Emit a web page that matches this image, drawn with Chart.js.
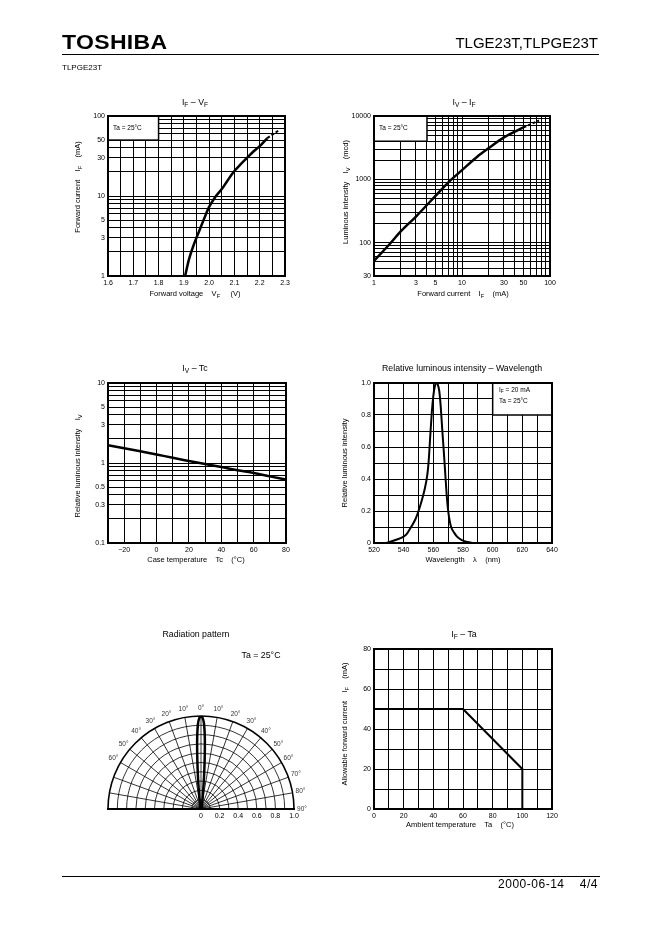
<!DOCTYPE html>
<html>
<head>
<meta charset="utf-8">
<script src="https://cdn.jsdelivr.net/npm/chart.js@4.4.1/dist/chart.umd.min.js"></script>
<style>
  html, body { margin: 0; padding: 0; background: #fff; }
  #page { position: relative; width: 662px; height: 936px; overflow: hidden;
          font-family: "Liberation Sans", Arial, sans-serif; color: #000; }
  #page div { white-space: pre; filter: grayscale(100%); }
  canvas { position: absolute; }
  .t { position: absolute; line-height: 1; transform: translate(-50%, -50%); }
  .v { transform: translate(-50%, -50%) rotate(-90deg); }
  .l { position: absolute; line-height: 1; transform: translateY(-50%); z-index: 2; }
  .ttl { font-size: 8.8px; }
  .ax { font-size: 7.5px; }
  .note { font-size: 6.5px; }
  sub { font-size: 0.75em; vertical-align: -0.3em; line-height: 0; }
</style>
</head>
<body>
<div id="page">
  <div style="position:absolute;left:62px;top:32px;font:900 20px 'Liberation Sans',Arial,sans-serif;line-height:20px;transform:scaleX(1.15);transform-origin:left top;letter-spacing:0.3px;">TOSHIBA</div>
  <div style="position:absolute;right:64px;top:35px;font-size:15px;line-height:15px;">TLGE23T,TLPGE23T</div>
  <div style="position:absolute;left:62px;top:54px;width:537px;height:1px;background:#000;"></div>
  <div style="position:absolute;left:62px;top:64px;font-size:8px;line-height:8px;">TLPGE23T</div>

  <div class="t ttl" style="left:195px;top:102px;">I<sub>F</sub> – V<sub>F</sub></div>
  <div class="t ttl" style="left:464px;top:102px;">I<sub>V</sub> – I<sub>F</sub></div>
  <div class="t ttl" style="left:195px;top:368px;">I<sub>V</sub> – Tc</div>
  <div class="t ttl" style="left:462px;top:368px;">Relative luminous intensity – Wavelength</div>
  <div class="t ttl" style="left:196px;top:634px;">Radiation pattern</div>
  <div class="t ttl" style="left:464px;top:634px;">I<sub>F</sub> – Ta</div>

  <div class="t ax" style="left:195px;top:294px;">Forward voltage    V<sub>F</sub>     (V)</div>
  <div class="t ax v" style="left:78px;top:187px;">Forward current    I<sub>F</sub>    (mA)</div>
  <div class="t ax" style="left:463px;top:294px;">Forward current    I<sub>F</sub>    (mA)</div>
  <div class="t ax v" style="left:346px;top:192px;">Luminous intensity    I<sub>V</sub>    (mcd)</div>
  <div class="t ax" style="left:196px;top:560px;">Case temperature    Tc    (°C)</div>
  <div class="t ax v" style="left:78px;top:466px;">Relative luminous intensity    I<sub>V</sub></div>
  <div class="t ax" style="left:463px;top:560px;">Wavelength    λ    (nm)</div>
  <div class="t ax v" style="left:345px;top:463px;">Relative luminous intensity</div>
  <div class="t ax" style="left:460px;top:825px;">Ambient temperature    Ta    (°C)</div>
  <div class="t ax v" style="left:345px;top:724px;">Allowable forward current    I<sub>F</sub>    (mA)</div>

  <div class="t" style="left:261px;top:655px;font-size:8.8px;">Ta = 25°C</div>

  <div style="position:absolute;left:62px;top:876px;width:538px;height:1px;background:#000;"></div>
  <div style="position:absolute;right:64px;top:878px;font-size:12px;line-height:12px;letter-spacing:0.5px;">2000-06-14    4/4</div>
</div>
<script>
// ---- IF - VF ----
const vfVolt = [1.905, 1.92, 1.94, 1.96, 1.98, 2.0, 2.025, 2.05, 2.075, 2.1, 2.125, 2.15, 2.175, 2.2, 2.23];
const vfCurr = [1, 1.6, 2.5, 3.6, 5.2, 7.3, 9.8, 12.2, 16, 20.5, 25, 30, 36, 42, 53];
const vfDashVolt = [2.23, 2.275];
const vfDashCurr = [53, 66];
const vfGridX = [1.6, 1.65, 1.7, 1.75, 1.8, 1.85, 1.9, 1.95, 2.0, 2.05, 2.1, 2.15, 2.2, 2.25, 2.3];
const vfLabelX = [1.6, 1.7, 1.8, 1.9, 2.0, 2.1, 2.2, 2.3];
const vfGridY = [1, 2, 3, 4, 5, 6, 7, 8, 9, 10, 20, 30, 40, 50, 60, 70, 80, 90, 100];
const vfLabelY = [1, 3, 5, 10, 30, 50, 100];

// ---- IV - IF ----
const ivCurr = [1, 1.5, 2, 3, 5, 7, 10, 15, 20, 30, 50];
const ivLum = [52, 95, 150, 260, 550, 900, 1400, 2300, 3100, 4600, 6600];
const ivDashCurr = [50, 75];
const ivDashLum = [6600, 8500];
const ivGridX = [1, 2, 3, 4, 5, 6, 7, 8, 9, 10, 20, 30, 40, 50, 60, 70, 80, 90, 100];
const ivLabelX = [1, 3, 5, 10, 30, 50, 100];
const ivGridY = [30, 40, 50, 60, 70, 80, 90, 100, 200, 300, 400, 500, 600, 700, 800, 900,
                 1000, 2000, 3000, 4000, 5000, 6000, 7000, 8000, 9000, 10000];
const ivLabelY = [30, 100, 1000, 10000];

// ---- IV - Tc ----
const tcTemp = [-30, -20, -10, 0, 10, 20, 30, 40, 50, 60, 70, 80];
const tcRel = [1.67, 1.53, 1.40, 1.28, 1.16, 1.06, 0.97, 0.89, 0.81, 0.75, 0.68, 0.62];
const tcGridX = [-30, -20, -10, 0, 10, 20, 30, 40, 50, 60, 70, 80];
const tcLabelX = [-20, 0, 20, 40, 60, 80];
const tcGridY = [0.1, 0.2, 0.3, 0.4, 0.5, 0.6, 0.7, 0.8, 0.9, 1, 2, 3, 4, 5, 6, 7, 8, 9, 10];
const tcLabelY = [0.1, 0.3, 0.5, 1, 3, 5, 10];

// ---- relative intensity vs wavelength ----
const wlNm = [528, 530, 535, 540, 542, 545, 548, 550, 552, 554, 556, 557, 558, 559, 560, 561, 562,
              563, 564, 565, 566, 567, 568, 569, 570, 571, 572, 574, 576, 578, 580, 583, 587];
const wlRel = [0, 0.005, 0.02, 0.04, 0.055, 0.1, 0.15, 0.2, 0.26, 0.33, 0.43, 0.53, 0.68, 0.82, 0.92, 0.98, 1.0,
               0.99, 0.95, 0.85, 0.71, 0.58, 0.44, 0.3, 0.2, 0.14, 0.1, 0.065, 0.04, 0.025, 0.015, 0.006, 0];
const wlGridX = [520, 530, 540, 550, 560, 570, 580, 590, 600, 610, 620, 630, 640];
const wlLabelX = [520, 540, 560, 580, 600, 620, 640];
const wlGridY = [0, 0.1, 0.2, 0.3, 0.4, 0.5, 0.6, 0.7, 0.8, 0.9, 1.0];
const wlLabelY = [0, 0.2, 0.4, 0.6, 0.8, 1.0];

// ---- radiation pattern ----
const radAngle = [-20, -16, -13, -10, -8, -6, -5, -4, -3, -2, -1, 0, 1, 2, 3, 4, 5, 6, 8, 10, 13, 16, 20];
const radInt = [0, 0.01, 0.03, 0.07, 0.13, 0.27, 0.4, 0.58, 0.78, 0.92, 0.98, 1, 0.98, 0.92, 0.78, 0.58, 0.4, 0.27, 0.13, 0.07, 0.03, 0.01, 0];
const radRings = [0.1, 0.2, 0.3, 0.4, 0.5, 0.6, 0.7, 0.8, 0.9, 1.0];
const radSpokes = [-80, -70, -60, -50, -40, -30, -20, -10, 0, 10, 20, 30, 40, 50, 60, 70, 80];
const radLabelLeft = [10, 20, 30, 40, 50, 60];
const radLabelRight = [0, 10, 20, 30, 40, 50, 60, 70, 80, 90];
const radLabelX = [0, 0.2, 0.4, 0.6, 0.8, 1.0];

// ---- IF - Ta ----
const taTemp = [0, 60, 100, 100];
const taCurr = [50, 50, 20, 0];
const taGridX = [0, 10, 20, 30, 40, 50, 60, 70, 80, 90, 100, 110, 120];
const taLabelX = [0, 20, 40, 60, 80, 100, 120];
const taGridY = [0, 10, 20, 30, 40, 50, 60, 70, 80];
const taLabelY = [0, 20, 40, 60, 80];

Chart.defaults.font.family = '"Liberation Sans", Arial, sans-serif';
Chart.defaults.font.size = 7;
Chart.defaults.color = '#000';

const PAD = { l: 40, t: 12, r: 20, b: 18 };
const page = document.getElementById('page');

function mount(area) {
  const c = document.createElement('canvas');
  const w = area.r - area.l + PAD.l + PAD.r;
  const h = area.b - area.t + PAD.t + PAD.b;
  c.width = w; c.height = h;
  c.style.left = (area.l - PAD.l) + 'px';
  c.style.top = (area.t - PAD.t) + 'px';
  c.style.width = w + 'px'; c.style.height = h + 'px';
  page.appendChild(c);
  return c;
}

// text that sits inside a chart's note box
function note(left, top, html) {
  const d = document.createElement('div');
  d.className = 'l note';
  d.style.left = left + 'px'; d.style.top = top + 'px';
  d.innerHTML = html;
  page.appendChild(d);
}

function pts(xs, ys) { return xs.map((x, i) => ({ x: x, y: ys[i] })); }

function axis(type, min, max, grid, labels, fmt, isX) {
  return {
    type: type, min: min, max: max,
    afterBuildTicks: s => { s.ticks = grid.map(v => ({ value: v })); },
    afterFit: s => { if (isX) s.height = PAD.b; else s.width = PAD.l; },
    ticks: {
      autoSkip: false, maxRotation: 0, minRotation: 0, padding: 3,
      callback: v => {
        const hit = labels.find(l => Math.abs(l - v) < 1e-9 + Math.abs(v) * 1e-6);
        return hit === undefined ? '' : fmt(hit);
      }
    },
    grid: { color: '#000', lineWidth: 1, drawTicks: false },
    border: { color: '#000', width: 2 }
  };
}

const plain = v => String(v);
const oneDec = v => v === 0 ? '0' : v.toFixed(1);
const minus = v => v < 0 ? '\u2212' + (-v) : String(v);

const frame = {
  id: 'frame',
  beforeDatasetsDraw(ch) {
    const a = ch.chartArea, c = ch.ctx;
    c.save();
    c.strokeStyle = '#000'; c.lineWidth = 2;
    c.strokeRect(a.left, a.top, a.right - a.left, a.bottom - a.top);
    c.restore();
  }
};

// white note box in data coordinates, hides the grid below it
function noteBox(x0, x1, y0, y1) {
  return {
    id: 'noteBox',
    beforeDatasetsDraw(ch) {
      const xs = ch.scales.x, ys = ch.scales.y, c = ch.ctx;
      const l = xs.getPixelForValue(x0), r = xs.getPixelForValue(x1);
      const t = ys.getPixelForValue(y1), b = ys.getPixelForValue(y0);
      c.save();
      c.fillStyle = '#fff'; c.fillRect(l, t, r - l, b - t);
      c.strokeStyle = '#000'; c.lineWidth = 1.5; c.strokeRect(l, t, r - l, b - t);
      c.restore();
    }
  };
}

function solid(data, w) {
  return { data: data, showLine: true, borderColor: '#000', borderWidth: w || 2.5,
           pointRadius: 0, cubicInterpolationMode: 'monotone', fill: false };
}
function dashed(data) {
  return { data: data, showLine: true, borderColor: '#000', borderWidth: 2,
           borderDash: [3, 2], pointRadius: 0, fill: false };
}

function opts(x, y) {
  return {
    responsive: false, animation: false, devicePixelRatio: 1,
    layout: { padding: { left: 0, top: PAD.t, right: PAD.r, bottom: 0 } },
    plugins: { legend: { display: false }, tooltip: { enabled: false }, title: { display: false } },
    scales: { x: x, y: y }
  };
}

// IF - VF
new Chart(mount({ l: 108, t: 116, r: 285, b: 276 }), {
  type: 'scatter',
  data: { datasets: [solid(pts(vfVolt, vfCurr)), dashed(pts(vfDashVolt, vfDashCurr))] },
  options: opts(axis('linear', 1.6, 2.3, vfGridX, vfLabelX, oneDec, true),
                axis('logarithmic', 1, 100, vfGridY, vfLabelY, plain, false)),
  plugins: [noteBox(1.6, 1.8, 50, 100), frame]
});
note(113, 128, 'Ta = 25°C');

// IV - IF
new Chart(mount({ l: 374, t: 116, r: 550, b: 276 }), {
  type: 'scatter',
  data: { datasets: [solid(pts(ivCurr, ivLum)), dashed(pts(ivDashCurr, ivDashLum))] },
  options: opts(axis('logarithmic', 1, 100, ivGridX, ivLabelX, plain, true),
                axis('logarithmic', 30, 10000, ivGridY, ivLabelY, plain, false)),
  plugins: [noteBox(1, 4, 4000, 10000), frame]
});
note(379, 128, 'Ta = 25°C');

// IV - Tc
new Chart(mount({ l: 108, t: 383, r: 286, b: 543 }), {
  type: 'scatter',
  data: { datasets: [solid(pts(tcTemp, tcRel))] },
  options: opts(axis('linear', -30, 80, tcGridX, tcLabelX, minus, true),
                axis('logarithmic', 0.1, 10, tcGridY, tcLabelY, plain, false)),
  plugins: [frame]
});

// relative intensity - wavelength
new Chart(mount({ l: 374, t: 383, r: 552, b: 543 }), {
  type: 'scatter',
  data: { datasets: [solid(pts(wlNm, wlRel), 2)] },
  options: opts(axis('linear', 520, 640, wlGridX, wlLabelX, plain, true),
                axis('linear', 0, 1, wlGridY, wlLabelY, oneDec, false)),
  plugins: [noteBox(600, 640, 0.8, 1.0), frame]
});
note(499, 390, 'I<sub>F</sub> = 20 mA');
note(499, 401, 'Ta = 25°C');

// IF - Ta
const taSet = solid(pts(taTemp, taCurr), 2);
taSet.cubicInterpolationMode = 'default';
new Chart(mount({ l: 374, t: 649, r: 552, b: 809 }), {
  type: 'scatter',
  data: { datasets: [taSet] },
  options: opts(axis('linear', 0, 120, taGridX, taLabelX, plain, true),
                axis('linear', 0, 80, taGridY, taLabelY, plain, false)),
  plugins: [frame]
});

// radiation pattern: polar grid drawn on a cartesian scatter
const radPts = radAngle.map((a, i) => ({
  x: radInt[i] * Math.sin(a * Math.PI / 180),
  y: radInt[i] * Math.cos(a * Math.PI / 180)
}));
const polarGrid = {
  id: 'polarGrid',
  beforeDatasetsDraw(ch) {
    const xs = ch.scales.x, ys = ch.scales.y, c = ch.ctx;
    const cx = xs.getPixelForValue(0), cy = ys.getPixelForValue(0);
    const R = xs.getPixelForValue(1) - cx;
    c.save();
    c.strokeStyle = '#000';
    radRings.forEach(r => {
      c.lineWidth = r === 1 ? 1.6 : 0.8;
      c.beginPath(); c.arc(cx, cy, r * R, Math.PI, 2 * Math.PI); c.stroke();
    });
    c.lineWidth = 0.8;
    radSpokes.forEach(a => {
      const t = a * Math.PI / 180;
      c.beginPath(); c.moveTo(cx, cy);
      c.lineTo(cx + R * Math.sin(t), cy - R * Math.cos(t)); c.stroke();
    });
    c.fillStyle = '#333';
    c.font = '6.5px "Liberation Sans", Arial, sans-serif';
    c.textAlign = 'center'; c.textBaseline = 'middle';
    const put = a => {
      const t = a * Math.PI / 180, rr = R + 8;
      c.fillText(Math.abs(a) + '\u00b0', cx + rr * Math.sin(t), cy - rr * Math.cos(t));
    };
    radLabelLeft.forEach(a => put(-a));
    radLabelRight.forEach(a => put(a));
    c.restore();
  }
};
const radX = axis('linear', -1, 1, radLabelX, radLabelX, oneDec, true);
radX.grid = { display: false, drawTicks: false };
const radOpts = opts(radX, { type: 'linear', min: 0, max: 1, display: false });
radOpts.layout.padding.left = PAD.l;
new Chart(mount({ l: 108, t: 716, r: 294, b: 809 }), {
  type: 'scatter',
  data: { datasets: [{ data: radPts, showLine: true, borderColor: '#000', borderWidth: 2.5,
                       pointRadius: 0, tension: 0.35, fill: false }] },
  options: radOpts,
  plugins: [polarGrid]
});
</script>
</body>
</html>
